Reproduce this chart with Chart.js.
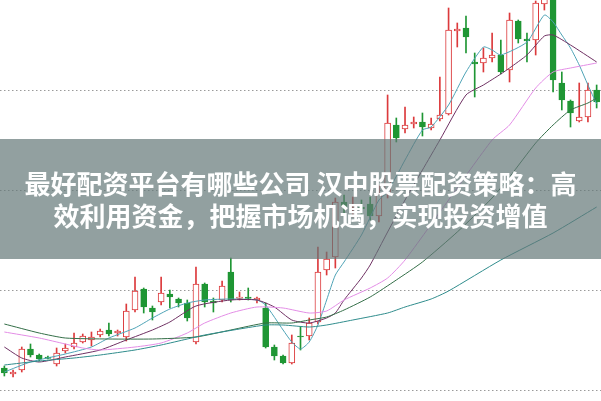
<!DOCTYPE html>
<html>
<head>
<meta charset="utf-8">
<script src="https://cdn.jsdelivr.net/npm/chart.js@4.4.0/dist/chart.umd.min.js"></script>
<style>
  body { margin: 0; background: #fff; }
  #wrap { position: relative; width: 601px; height: 401px; overflow: hidden; }
  #banner {
    position: absolute; left: 0; top: 139px; width: 601px; height: 120px;
    background: rgba(100, 120, 120, 0.7);
    color: #fff; font: bold 26px "Noto Sans CJK SC", sans-serif;
    text-align: center; line-height: 32px; box-sizing: border-box; padding-top: 28px;
  }
</style>
</head>
<body>
<div id="wrap">
  <canvas id="chart" width="601" height="401"></canvas>
  <div id="banner">最好配资平台有哪些公司 汉中股票配资策略：高<br>效利用资金，把握市场机遇，实现投资增值</div>
</div>
<script>
// daily candles
const days = Array.from({ length: 69 }, (_, i) => 'D' + (i + 1));

const opens = [10.22,10.16,10.20,10.41,10.35,10.33,10.26,10.39,10.43,10.48,
  10.50,10.55,10.60,10.57,10.53,10.80,11.01,10.82,10.88,10.96,
  10.91,10.87,10.48,11.06,10.89,10.90,11.18,10.915,10.93,10.90,
  10.82,10.43,10.34,10.27,10.54,10.54,10.68,11.20,11.33,11.88,
  11.80,11.83,11.86,11.74,11.96,12.65,12.61,12.66,12.68,12.62,
  12.71,12.76,13.59,13.62,13.28,13.27,13.32,13.35,13.20,13.69,
  13.51,13.50,13.86,13.95,13.07,12.89,12.69,12.73,13.00];
const closes = [10.17,10.18,10.41,10.35,10.31,10.315,10.37,10.42,10.47,10.54,
  10.53,10.59,10.56,10.59,10.79,10.99,10.83,10.78,10.97,10.93,
  10.87,10.72,11.06,10.88,10.87,11.04,10.90,10.93,10.915,10.92,
  10.43,10.34,10.27,10.47,10.53,10.67,11.18,11.31,11.88,11.83,
  11.82,11.81,11.74,11.96,12.67,12.52,12.65,12.68,12.63,12.66,
  12.75,13.60,13.61,13.53,13.26,13.32,13.35,13.18,13.70,13.51,
  13.49,13.87,13.92,13.10,12.90,12.77,12.73,13.00,12.88];
const highs = [10.24,10.20,10.43,10.46,10.36,10.34,10.42,10.46,10.57,10.56,
  10.58,10.61,10.67,10.60,10.86,11.13,11.02,10.84,11.13,11.00,
  10.92,10.90,11.23,11.07,10.92,11.09,11.32,10.98,11.02,10.93,
  10.87,10.45,10.35,10.55,10.63,10.72,11.43,11.38,11.92,11.95,
  11.93,11.90,11.93,12.05,12.95,12.72,12.83,12.73,12.77,12.72,
  13.13,13.82,13.67,13.74,13.37,13.42,13.57,13.50,13.77,13.70,
  13.57,13.89,14.00,14.00,13.18,12.90,13.07,13.07,13.05];
const lows = [10.14,10.13,10.18,10.33,10.29,10.31,10.24,10.37,10.41,10.47,
  10.44,10.53,10.54,10.54,10.49,10.78,10.77,10.70,10.85,10.82,
  10.83,10.69,10.46,10.83,10.78,10.88,10.88,10.90,10.90,10.87,
  10.42,10.30,10.26,10.26,10.40,10.50,10.66,11.15,11.22,11.77,
  11.73,11.76,11.70,11.68,11.92,12.48,12.57,12.62,12.54,12.60,
  12.69,12.75,13.43,13.37,12.93,13.18,13.28,13.16,13.08,13.47,
  13.28,13.35,13.80,12.98,12.80,12.63,12.68,12.68,12.82];

// moving average lines: [day index, value]
const ma5 = [[0,10.18],[3,10.28],[7,10.36],[10,10.43],[12,10.52],[15,10.62],[17,10.72],[19,10.81],
  [21,10.87],[23,10.90],[26,10.91],[29,10.90],[30,10.85],[32,10.60],[33,10.48],[34,10.41],[35,10.48],
  [36,10.65],[37,10.90],[38,11.15],[39,11.28],[41,11.55],[43,11.90],[44,11.98],[46,12.30],[48,12.60],
  [49,12.63],[51,12.85],[53,13.18],[55,13.43],[56,13.40],[57,13.35],[60,13.48],[62,13.75],[63,13.68],
  [64,13.55],[65,13.42],[66,13.25],[67,13.05],[68,12.86]];
const ma10 = [[0,10.43],[2,10.32],[4,10.28],[7,10.33],[11,10.40],[14,10.50],[17,10.60],[19,10.68],
  [22,10.84],[26,10.90],[29,10.90],[31,10.83],[33,10.70],[35,10.67],[37,10.72],[38,10.77],[39,10.90],
  [41,11.12],[42,11.25],[44,11.58],[46,11.90],[48,12.20],[50,12.50],[53,12.95],[55,13.05],[57,13.16],
  [58,13.22],[60,13.35],[62,13.54],[63,13.55],[65,13.45],[68,13.28]];
const ma20 = [[0,10.58],[4,10.52],[7,10.46],[9,10.42],[11,10.40],[15,10.43],[18,10.47],[21,10.57],
  [23,10.67],[26,10.77],[29,10.83],[32,10.82],[35,10.77],[37,10.79],[39,10.90],[42,11.02],[44,11.12],
  [46,11.30],[51,11.90],[56,12.50],[58,12.65],[61,13.02],[63,13.18],[65,13.22],[68,13.27]];
const ma30 = [[0,10.66],[4,10.57],[7,10.52],[12,10.51],[17,10.51],[22,10.53],[26,10.60],[30,10.67],
  [33,10.67],[35,10.70],[37,10.73],[39,10.80],[42,10.93],[45,11.10],[48,11.28],[52,11.58],[56,11.92],
  [58,12.13],[61,12.47],[63,12.65],[65,12.80],[67,12.87],[68,12.92]];
const ma60 = [[0,10.25],[4,10.29],[8,10.32],[11,10.35],[15,10.40],[18,10.45],[21,10.51],[23,10.55],
  [27,10.61],[30,10.65],[32,10.65],[35,10.63],[37,10.65],[40,10.70],[44,10.77],[46,10.83],[49,10.91],
  [51,10.99],[57,11.30],[63,11.57],[68,11.83]];

const gridValues = [10, 11, 12, 13];

const RED = '#dc3a3c';
const GREEN = '#1f9634';

const isUp = opens.map((o, i) => closes[i] >= o);
const candleColor = isUp.map(u => u ? RED : GREEN);

function maLine(points, color) {
  return {
    type: 'line',
    data: points.map(p => ({ x: days[p[0]], y: p[1] })),
    borderColor: color,
    borderWidth: 1,
    pointRadius: 0,
    tension: 0.2,
    fill: false,
    order: 1
  };
}

const ctx = document.getElementById('chart').getContext('2d');
const myChart = new Chart(ctx, {
  type: 'bar',
  data: {
    labels: days,
    datasets: [
      {
        // wicks
        data: lows.map((l, i) => [l, highs[i]]),
        backgroundColor: candleColor,
        borderWidth: 0,
        barThickness: 1,
        grouped: false,
        order: 3
      },
      {
        // bodies
        data: opens.map((o, i) => [o, closes[i]]),
        backgroundColor: isUp.map(u => u ? '#ffffff' : GREEN),
        borderColor: candleColor,
        borderWidth: 1,
        borderSkipped: false,
        barThickness: 6,
        grouped: false,
        order: 2
      },
      maLine(ma60, '#2f8c8c'),
      maLine(ma30, '#336e47'),
      maLine(ma20, '#e38de6'),
      maLine(ma10, '#6e3062'),
      maLine(ma5, '#4ea3b6')
    ]
  },
  options: {
    responsive: false,
    animation: false,
    layout: { padding: 0 },
    plugins: { legend: { display: false }, tooltip: { enabled: false } },
    scales: {
      x: { display: false, offset: true },
      y: {
        min: 9.89,
        max: 13.9,
        ticks: { display: false },
        border: { display: false, dash: [1.5, 2.5] },
        grid: { color: '#9a9a9a', drawTicks: false, lineWidth: 1 },
        afterBuildTicks: scale => { scale.ticks = gridValues.map(v => ({ value: v })); }
      }
    }
  }
});
</script>
</body>
</html>
